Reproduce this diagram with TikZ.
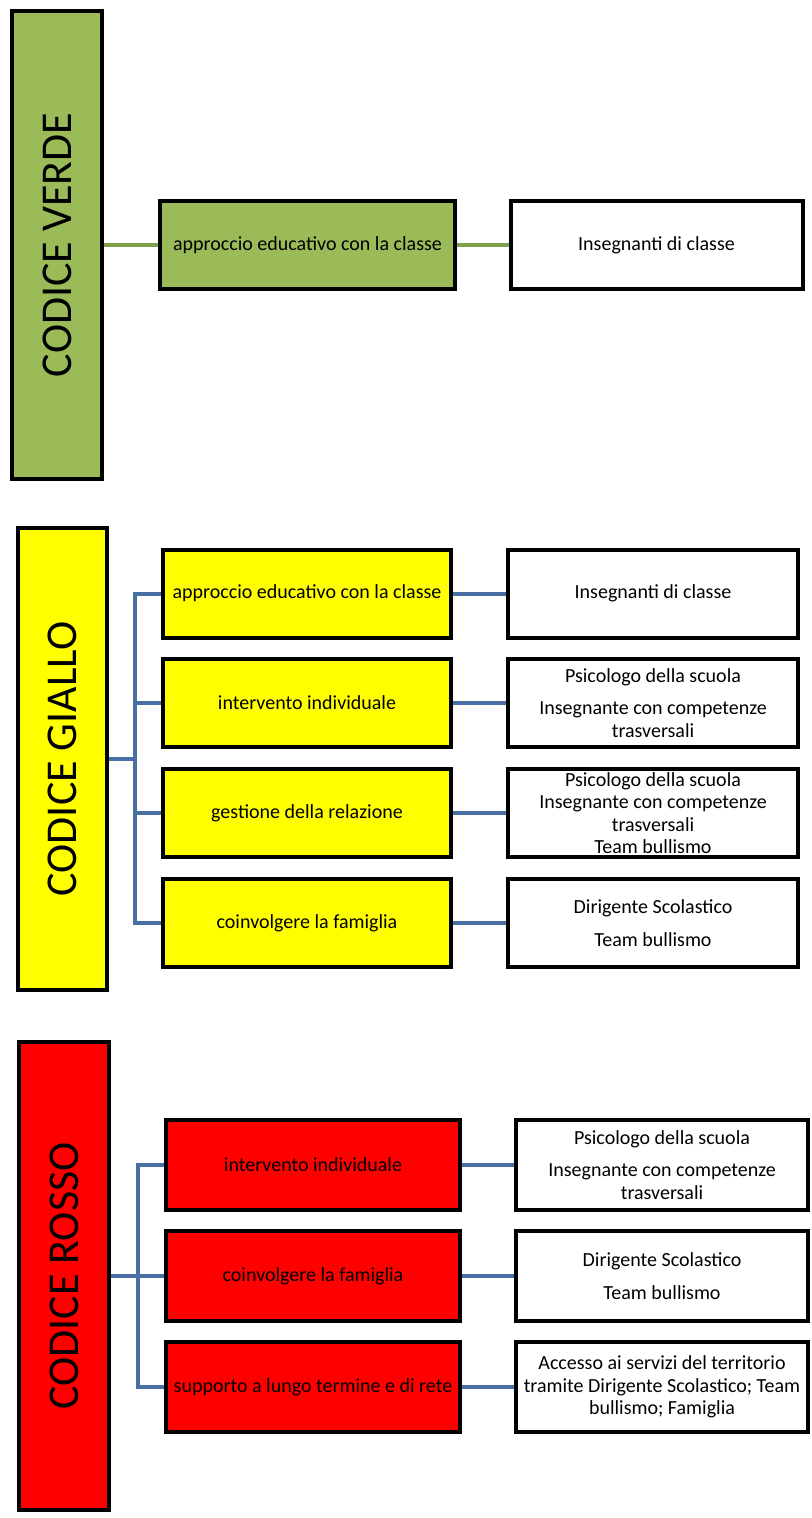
\documentclass[tikz,border=0pt]{standalone}
\usepackage{fontspec}
\setmainfont{Carlito}
\usetikzlibrary{backgrounds}

\definecolor{verde}{HTML}{9BBB59}
\definecolor{verdeline}{HTML}{80A04B}
\definecolor{giallo}{HTML}{FFFF00}
\definecolor{rosso}{HTML}{FF0000}
\definecolor{linkblue}{HTML}{4A6FA5}

\tikzset{
  codebox/.style={draw, line width=2pt, minimum width=45pt, minimum height=234pt, inner sep=0pt},
  codetext/.style={font=\fontsize{22}{26}\selectfont, rotate=90},
  actbox/.style={draw, line width=2pt, minimum width=147pt, minimum height=44pt,
    align=center, inner sep=1pt, font=\fontsize{10}{12}\selectfont},
  whobox/.style={draw, fill=white, line width=2pt, minimum width=146pt, minimum height=44pt,
    align=center, inner sep=1pt, font=\fontsize{10}{11.2}\selectfont},
  link/.style={line width=2pt, linkblue}
}

\begin{document}
\begin{tikzpicture}[x=0.5pt, y=0.5pt]

     \useasboundingbox (0,0) rectangle (812,-1518);

     % codice verde
     \node[codebox, fill=verde] (verde) at (57,-245) {};
     \node[codetext] at (verde) {CODICE VERDE};

     \node[actbox, fill=verde, minimum width=147.5pt] (verdeA) at (307.5,-245) {approccio educativo con la classe};
     \node[whobox] (verdeAr) at (656.5,-245) {Insegnanti di classe};

     % codice giallo
     \node[codebox, fill=giallo, minimum width=44.5pt, minimum height=231pt] (giallo) at (62.5,-759) {};
     \node[codetext] at (giallo) {CODICE GIALLO};

     \node[actbox, fill=giallo, minimum width=144pt] (gA) at (307,-593.5) {approccio educativo con la classe};
     \node[actbox, fill=giallo, minimum width=144pt] (gB) at (307,-703) {intervento individuale};
     \node[actbox, fill=giallo, minimum width=144pt] (gC) at (307,-813) {gestione della relazione};
     \node[actbox, fill=giallo, minimum width=144pt] (gD) at (307,-923) {coinvolgere la famiglia};

     \node[whobox, minimum width=145pt] (gAr) at (653,-593.5) {Insegnanti di classe};
     \node[whobox, minimum width=145pt] (gBr) at (653,-703) {Psicologo della scuola\\[5pt]Insegnante con competenze\\trasversali};
     \node[whobox, minimum width=145pt] (gCr) at (653,-813) {Psicologo della scuola\\Insegnante con competenze\\trasversali\\Team bullismo};
     \node[whobox, minimum width=145pt] (gDr) at (653,-923) {Dirigente Scolastico\\[5pt]Team bullismo};

     \coordinate (gtrunk) at (135,-759);

     % codice rosso
     \node[codebox, fill=rosso] (rosso) at (64,-1276) {};
     \node[codetext] at (rosso) {CODICE ROSSO};

     \node[actbox, fill=rosso, minimum height=45pt] (rA) at (313,-1165) {intervento individuale};
     \node[actbox, fill=rosso, minimum height=45pt] (rB) at (313,-1276) {coinvolgere la famiglia};
     \node[actbox, fill=rosso, minimum height=45pt] (rC) at (313,-1387) {supporto a lungo termine e di rete};

     \node[whobox, minimum height=45pt] (rAr) at (662,-1165) {Psicologo della scuola\\[5pt]Insegnante con competenze\\trasversali};
     \node[whobox, minimum height=45pt] (rBr) at (662,-1276) {Dirigente Scolastico\\[5pt]Team bullismo};
     \node[whobox, minimum height=45pt] (rCr) at (662,-1387) {Accesso ai servizi del territorio\\tramite Dirigente Scolastico; Team\\bullismo; Famiglia};

     \coordinate (rtrunk) at (138,-1276);

     % connectors
     \begin{scope}[on background layer]
       \draw[line width=2.3pt, verdeline] (verde.east) -- (verdeA.west);
       \draw[line width=2.3pt, verdeline] (verdeA.east) -- (verdeAr.west);

       \foreach \b in {gA,gB,gC,gD} {
         \draw[link] (giallo.east) -- (gtrunk) |- (\b.west);
         \draw[link] (\b.east) -- (\b r.west);
       }

       \foreach \b in {rA,rB,rC} {
         \draw[link] (rosso.east) -- (rtrunk) |- (\b.west);
         \draw[link] (\b.east) -- (\b r.west);
       }
     \end{scope}

\end{tikzpicture}
\end{document}
